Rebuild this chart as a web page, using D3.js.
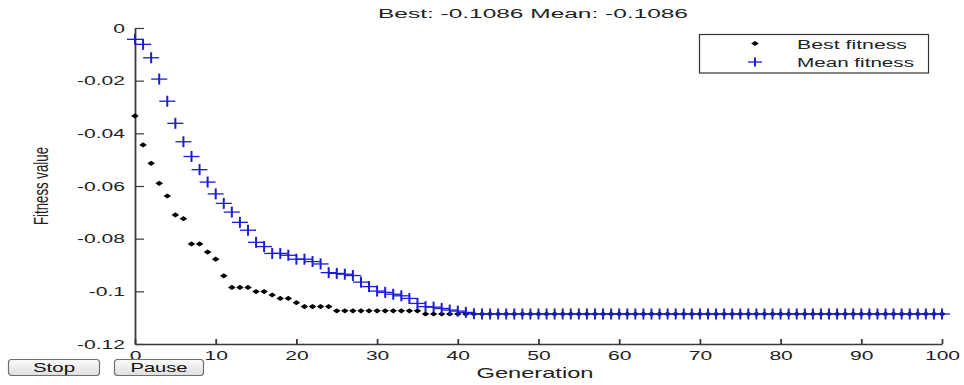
<!DOCTYPE html>
<html><head><meta charset="utf-8">
<script src="https://cdn.jsdelivr.net/npm/d3@7"></script>
<style>
body{margin:0;background:#fff;}
svg{display:block;font-family:"Liberation Sans",Arial,Helvetica,sans-serif;}
</style>
</head><body>
<svg id="chart" width="964" height="385"></svg>
<script>
// ---------- data ----------
const titleText = "Best: -0.1086 Mean: -0.1086";
const xLabel = "Generation";
const yLabel = "Fitness value";
const seriesNames = ["Best fitness", "Mean fitness"];
const buttonLabels = ["Stop", "Pause"];
const xTicks = [0, 10, 20, 30, 40, 50, 60, 70, 80, 90, 100];
const yTicks = [0, -0.02, -0.04, -0.06, -0.08, -0.1, -0.12];
const generations = d3.range(0, 101);
const bestFitness = [
  -0.0334,-0.0444,-0.0514,-0.0590,-0.0638,-0.0710,-0.0724,-0.0820,-0.0820,-0.0851,
  -0.0878,-0.0941,-0.0985,-0.0985,-0.0985,-0.1001,-0.1001,-0.1014,-0.1027,-0.1027,
  -0.1043,-0.1058,-0.1058,-0.1058,-0.1058,-0.1074,-0.1074,-0.1074,-0.1074,-0.1074,
  -0.1074,-0.1074,-0.1074,-0.1074,-0.1074,-0.1074,-0.1086,-0.1086,-0.1086,-0.1086,
  -0.1086,-0.1086,-0.1086,-0.1086,-0.1086,-0.1086,-0.1086,-0.1086,-0.1086,-0.1086,
  -0.1086,-0.1086,-0.1086,-0.1086,-0.1086,-0.1086,-0.1086,-0.1086,-0.1086,-0.1086,
  -0.1086,-0.1086,-0.1086,-0.1086,-0.1086,-0.1086,-0.1086,-0.1086,-0.1086,-0.1086,
  -0.1086,-0.1086,-0.1086,-0.1086,-0.1086,-0.1086,-0.1086,-0.1086,-0.1086,-0.1086,
  -0.1086,-0.1086,-0.1086,-0.1086,-0.1086,-0.1086,-0.1086,-0.1086,-0.1086,-0.1086,
  -0.1086,-0.1086,-0.1086,-0.1086,-0.1086,-0.1086,-0.1086,-0.1086,-0.1086,-0.1086,
  -0.1086
];
const meanFitness = [
  -0.0043,-0.0062,-0.0113,-0.0194,-0.0278,-0.0362,-0.0432,-0.0488,-0.0538,-0.0585,
  -0.0630,-0.0666,-0.0699,-0.0738,-0.0768,-0.0814,-0.0830,-0.0856,-0.0856,-0.0863,
  -0.0878,-0.0878,-0.0887,-0.0896,-0.0929,-0.0932,-0.0935,-0.0940,-0.0965,-0.0982,
  -0.0999,-0.1004,-0.1011,-0.1017,-0.1027,-0.1046,-0.1058,-0.1060,-0.1065,-0.1071,
  -0.1075,-0.1080,-0.1085,-0.1086,-0.1086,-0.1086,-0.1086,-0.1086,-0.1086,-0.1086,
  -0.1086,-0.1086,-0.1086,-0.1086,-0.1086,-0.1086,-0.1086,-0.1086,-0.1086,-0.1086,
  -0.1086,-0.1086,-0.1086,-0.1086,-0.1086,-0.1086,-0.1086,-0.1086,-0.1086,-0.1086,
  -0.1086,-0.1086,-0.1086,-0.1086,-0.1086,-0.1086,-0.1086,-0.1086,-0.1086,-0.1086,
  -0.1086,-0.1086,-0.1086,-0.1086,-0.1086,-0.1086,-0.1086,-0.1086,-0.1086,-0.1086,
  -0.1086,-0.1086,-0.1086,-0.1086,-0.1086,-0.1086,-0.1086,-0.1086,-0.1086,-0.1086,
  -0.1086
];

// ---------- layout ----------
const SX = 1.62;              // horizontal stretch of the original figure
const axisColor = "#3a3a3a";
const blue = "#1c1cd0";
const svg = d3.select("#chart");

const x = d3.scaleLinear().domain([0, 100]).range([135, 942]);
const y = d3.scaleLinear().domain([-0.12, 0]).range([344, 28]);

const fmt = d => String(+(+d).toFixed(2));

// y axis (ticks inside)
const gy = svg.append("g").attr("transform", `translate(${x(0)},0)`)
  .call(d3.axisLeft(y).tickValues(yTicks).tickFormat(fmt).tickSizeInner(-9).tickSizeOuter(0).tickPadding(10));
gy.select(".domain").attr("stroke", axisColor).attr("stroke-width", 1.8);
gy.selectAll(".tick line").attr("stroke", axisColor).attr("stroke-width", 1.2);
gy.selectAll(".tick text")
  .attr("font-size", 13).attr("fill", "#222")
  .attr("font-family", "'Liberation Sans',Arial,sans-serif")
  .attr("x", -10 / SX).attr("transform", `scale(${SX},1)`);

// x axis (ticks inside)
const gx = svg.append("g").attr("transform", `translate(0,${y(-0.12)})`)
  .call(d3.axisBottom(x).tickValues(xTicks).tickFormat(fmt).tickSizeInner(-5).tickSizeOuter(0).tickPadding(7));
gx.select(".domain").attr("stroke", axisColor).attr("stroke-width", 1.3);
gx.selectAll(".tick line").attr("stroke", axisColor).attr("stroke-width", 1.8);
gx.selectAll(".tick text")
  .attr("font-size", 13).attr("fill", "#222")
  .attr("font-family", "'Liberation Sans',Arial,sans-serif")
  .attr("transform", `scale(${SX},1)`);

// title
svg.append("text").attr("x", 533).attr("y", 17.5).attr("text-anchor", "middle")
  .attr("font-size", 12).attr("fill", "#222")
  .attr("textLength", 310).attr("lengthAdjust", "spacingAndGlyphs").text(titleText);

// axis labels
svg.append("text").attr("x", 535).attr("y", 378).attr("text-anchor", "middle")
  .attr("font-size", 14.5).attr("fill", "#222")
  .attr("textLength", 117).attr("lengthAdjust", "spacingAndGlyphs").text(xLabel);
svg.append("text").attr("transform", `translate(48,186) scale(${SX},1) rotate(-90)`)
  .attr("text-anchor", "middle").attr("font-size", 13).attr("fill", "#222")
  .attr("textLength", 78).attr("lengthAdjust", "spacingAndGlyphs").text(yLabel);

// markers
const diamond = "M0,-2.6L3.8,0L0,2.6L-3.8,0Z";
function plus(g, cx, cy, w, h) {
  g.append("line").attr("x1", cx - w / 2).attr("x2", cx + w / 2).attr("y1", cy).attr("y2", cy)
    .attr("stroke", blue).attr("stroke-width", 1.3);
  g.append("line").attr("x1", cx).attr("x2", cx).attr("y1", cy - h / 2).attr("y2", cy + h / 2)
    .attr("stroke", blue).attr("stroke-width", 2);
}

const gBest = svg.append("g");
gBest.selectAll("path").data(generations).join("path")
  .attr("d", diamond)
  .attr("transform", i => `translate(${x(generations[i])},${y(bestFitness[i])})`)
  .attr("fill", "#000");

const gMean = svg.append("g");
generations.forEach(i => plus(gMean, x(generations[i]), y(meanFitness[i]), 16, 11));

// legend
const lg = svg.append("g");
lg.append("rect").attr("x", 699.5).attr("y", 34.5).attr("width", 229).attr("height", 38.5)
  .attr("fill", "#fff").attr("stroke", "#333").attr("stroke-width", 1.2);
lg.append("path").attr("d", diamond).attr("transform", "translate(755,43.5)").attr("fill", "#000");
plus(lg, 755, 62, 14, 9);
lg.append("text").attr("x", 797).attr("y", 48.5).attr("font-size", 12).attr("fill", "#222")
  .attr("textLength", 110).attr("lengthAdjust", "spacingAndGlyphs").text(seriesNames[0]);
lg.append("text").attr("x", 797).attr("y", 67).attr("font-size", 12).attr("fill", "#222")
  .attr("textLength", 117).attr("lengthAdjust", "spacingAndGlyphs").text(seriesNames[1]);

// buttons
const defs = svg.append("defs");
const grad = defs.append("linearGradient").attr("id", "btn").attr("x1", 0).attr("y1", 0).attr("x2", 0).attr("y2", 1);
grad.append("stop").attr("offset", "0%").attr("stop-color", "#fcfcfc");
grad.append("stop").attr("offset", "100%").attr("stop-color", "#dedede");
const buttons = [
  {label: buttonLabels[0], x: 8, w: 91, tw: 42},
  {label: buttonLabels[1], x: 114, w: 89, tw: 57}
];
buttons.forEach(b => {
  svg.append("rect").attr("x", b.x + 0.5).attr("y", 359.5).attr("width", b.w).attr("height", 16)
    .attr("rx", 3).attr("fill", "url(#btn)").attr("stroke", "#6f6f6f").attr("stroke-width", 1.2);
  svg.append("text").attr("x", b.x + b.w / 2 + 0.5).attr("y", 372).attr("text-anchor", "middle")
    .attr("font-size", 13).attr("fill", "#111")
    .attr("textLength", b.tw).attr("lengthAdjust", "spacingAndGlyphs").text(b.label);
});
</script>
</body></html>
